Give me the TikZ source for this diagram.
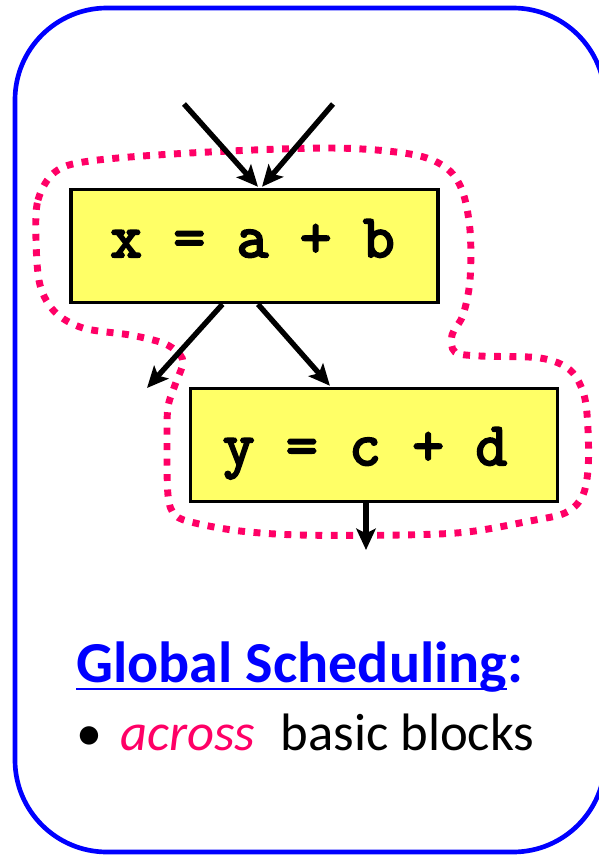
\documentclass[tikz,border=0pt]{standalone}
\usepackage{fontspec}
\setmainfont{Carlito}
\newfontfamily\codefont{Latin Modern Mono}[FakeBold=3.5]
\usetikzlibrary{arrows.meta,calc}
\definecolor{frameblue}{RGB}{0,0,255}
\definecolor{hot}{RGB}{255,0,102}
\definecolor{boxyellow}{RGB}{255,255,102}
\begin{document}
\begin{tikzpicture}[x=0.75pt,y=-0.75pt,
  blockbox/.style={draw=black, line width=2.6pt, fill=boxyellow, inner sep=0pt,
    minimum width=275pt, minimum height=84.75pt},
  codetext/.style={inner sep=0pt, anchor=base, font=\codefont\fontsize{46}{54}\selectfont},
  arr/.style={draw=black, line width=4pt, -{Stealth[length=16pt,width=14.5pt,inset=3.5pt]}},
  region/.style={draw=hot, line width=5.2pt, dash pattern=on 5.2pt off 6.4pt},
  frame/.style={draw=frameblue, line width=3.5pt, rounded corners=69pt},
  plaintext/.style={inner sep=0pt, anchor=base west}
]
\useasboundingbox (0,0) rectangle (599,856);
% outer frame
\draw[frame] (15,8) rectangle (605,852);

% dotted region
\draw[region] plot[smooth cycle, tension=0.55] coordinates {
  (36,240) (38,200) (55,172) (90,161) (190,153) (330,148) (410,154) (445,167)
  (462,190) (470,230) (470,280) (463,315) (452,335) (455,352) (480,356)
  (540,358) (570,370) (584,395) (588,430) (588,470) (582,497) (565,513)
  (530,521) (467,532) (400,535) (300,535) (240,531) (195,523) (175,515)
  (168,495) (167,440) (168,407) (175,385) (183,362) (175,350) (160,342)
  (130,335) (83,328) (55,312) (40,285)};

% blocks
\node[blockbox] (b1) at (254.5,246) {};
\node[blockbox] (b2) at (374,445) {};
\node[codetext] (t1) at (252.5,257) {x = a + b};
\node[codetext] (t2) at (365,465) {y = c + d};

% free ends
\coordinate (in1) at (184,104);
\coordinate (in2) at (333,104);
\coordinate (out1) at (147,388);
\coordinate (out3) at (366,550);

% arrows
\draw[arr] (in1) -- ($(b1.north)+(3.5,-1)$);
\draw[arr] (in2) -- ($(b1.north)+(7.5,-1)$);
\draw[arr] ($(b1.south)+(-32,0)$) -- (out1);
\draw[arr] ($(b1.south)+(3.5,0)$) -- ($(b2.north west)+(141,-1)$);
\draw[arr] ($(b2.south)+(-8,0)$) -- (out3);

% text
\node[plaintext, text=frameblue, font=\bfseries\fontsize{43.5}{52}\selectfont] (title) at (76,682) {Global Scheduling};
\node[plaintext, text=frameblue, font=\bfseries\fontsize{43.5}{52}\selectfont] (colon) at (title.base east) {:};
\draw[frameblue, line width=2.2pt] ($(title.base west)+(0,7)$) -- ($(title.base east)+(0,7)$);
\node[plaintext, font=\fontsize{39}{47}\selectfont] (bul) at (76,750) {•};
\node[plaintext, font=\fontsize{39.5}{47}\selectfont] (line) at (120,750) {{\itshape\color{hot}across}\hspace*{19pt}basic blocks};
\end{tikzpicture}
\end{document}
